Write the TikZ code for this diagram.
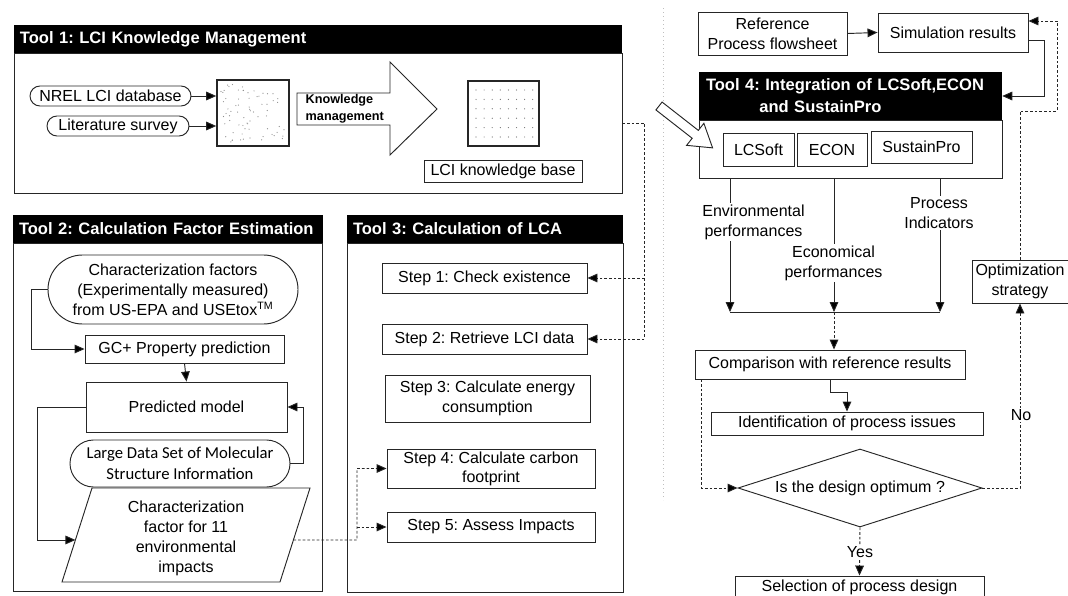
\documentclass[tikz,border=0pt]{standalone}
\usepackage{fontspec}
\setmainfont{Liberation Sans}
\newfontfamily\carlito{Carlito}
\frenchspacing
\usetikzlibrary{positioning,arrows.meta,calc,shapes.misc,shapes.geometric}

\tikzset{
  wh/.style 2 args={minimum width=#1*0.75pt,minimum height=#2*0.75pt},
  box/.style={draw=black!85,line width=0.7pt,fill=white,inner sep=0pt,align=center},
  pill/.style={box,rounded rectangle},
  panel/.style={draw=black!85,line width=0.7pt,inner sep=0pt},
  hdr/.style={fill=black,text=white,inner sep=0pt,align=left,
    font=\bfseries\fontsize{12.4}{16.5}\selectfont},
  conn/.style={draw=black!85,line width=0.7pt},
  dconn/.style={conn,dash pattern=on 2pt off 1.5pt},
  arr/.style={-{Triangle[length=7.5pt,width=6.5pt,fill=black]}},
  lbl/.style={fill=white,inner sep=1pt,align=center},
}

\begin{document}
\begin{tikzpicture}[x=0.75pt,y=-0.75pt,font=\fontsize{12}{15}\selectfont]
  \useasboundingbox (0,0) rectangle (1068,596);
  \fill[white] (0,0) rectangle (1068,596);
  \draw[black!25,dash pattern=on 1pt off 2pt] (663,8) -- (663,500);

  % Tool 1
  \node[panel,wh={608}{140}] (panel1) at (318,123) {};
  \node[hdr,wh={608}{28},text width=447pt] (hdr1) at (318,39) {Tool 1: LCI Knowledge Management};
  \node[pill,wh={161}{20}] (nrel) at (110.5,96) {NREL LCI database};
  \node[pill,wh={142}{20}] (lit) at (118,126) {Literature survey};
  \node[box,line width=1.2pt,wh={72}{66}] (raw) at (253,113) {};
  \pgfmathsetseed{7}
  \foreach \i in {1,...,70}
    \fill[black!45] (221+rnd*64,84+rnd*58) circle (0.45pt);
  \draw[conn] (297,93) -- (390,93) -- (390,62) -- (437,109) -- (390,155) -- (390,125) -- (297,125) -- cycle;
  \node[font=\bfseries\fontsize{9.5}{12.5}\selectfont,align=left,anchor=west] (kmlbl) at (301,109) {Knowledge\\management};
  \node[box,line width=1.2pt,wh={71}{65}] (kb) at (503.5,113.5) {};
  \foreach \cx in {0,...,7}
    \foreach \cy in {0,...,5}
      \fill[black!55] (476+\cx*8.1,90+\cy*9.4) circle (0.45pt);
  \node[box,wh={158}{22}] (kblbl) at (503,171) {LCI knowledge base};
  \draw[conn,arr] (nrel.east) -- (raw.west |- nrel.east);
  \draw[conn,arr] (lit.east) -- (raw.west |- lit.east);

  % Tool 2
  \node[panel,wh={309}{348}] (panel2) at (167.5,417) {};
  \node[hdr,wh={310}{28},text width=223.5pt] (hdr2) at (168,229) {Tool 2: Calculation Factor Estimation};
  \node[pill,wh={250}{69}] (charf) at (173,289.5) {Characterization factors\\(Experimentally measured)\\from US-EPA and USEtox\textsuperscript{TM}};
  \node[box,wh={199}{28}] (gcp) at (184.5,349) {GC+ Property prediction};
  \node[box,wh={201}{50}] (predm) at (186.5,407) {Predicted model};
  \node[pill,wh={220}{47},font=\carlito\fontsize{12.5}{15.5}\selectfont] (largeds) at (180,463.5) {Large Data Set of Molecular\\Structure Information};
  \coordinate (p1) at (92,488);
  \coordinate (p2) at (310,488);
  \coordinate (p3) at (280,582);
  \coordinate (p4) at (62,582);
  \draw[conn,fill=white] (p1) -- (p2) -- (p3) -- (p4) -- cycle;
  \node[align=center] (cf11) at (186,538) {Characterization\\factor for 11\\environmental\\impacts};
  \coordinate (cfl) at ($(p1)!0.553!(p4)$);
  \coordinate (cfr) at ($(p2)!0.553!(p3)$);
  \draw[conn,arr] (charf.west) -- ++(-16,0) |- (gcp.west);
  \draw[conn,arr] (gcp.south) -- (predm.north);
  \draw[conn,arr] (largeds.east) -- ++(13,0) |- (predm.east);
  \draw[conn,arr] (predm.west) -- (37,407) |- (cfl);

  % Tool 3
  \node[panel,wh={276}{349}] (panel3) at (485,417.5) {};
  \node[hdr,wh={276}{28},text width=198pt] (hdr3) at (485,229) {Tool 3: Calculation of LCA};
  \node[box,wh={205}{30}] (step1) at (484.5,278) {Step 1: Check existence};
  \node[box,wh={205}{30}] (step2) at (484.5,339) {Step 2: Retrieve LCI data};
  \node[box,wh={205}{47}] (step3) at (487.5,398.5) {Step 3: Calculate energy\\consumption};
  \node[box,wh={208}{39},font=\fontsize{12}{14.3}\selectfont] (step4) at (491,468.5) {Step 4: Calculate carbon\\footprint};
  \node[box,wh={208}{30}] (step5) at (491,527) {Step 5: Assess Impacts};
  \draw[dconn,arr] (cfr) -- (357,540) coordinate (cfjoin) |- (step4.west);
  \draw[dconn,arr] (cfjoin |- step5.west) -- (step5.west);
  \draw[dconn,arr] (panel1.east) -- ++(22,0) coordinate (kbjoin) |- (step2.east);
  \draw[dconn,arr] (kbjoin |- step1.east) -- (step1.east);

  % Tool 4
  \node[box,wh={149}{43}] (refpf) at (772.5,33.5) {Reference\\Process flowsheet};
  \node[box,wh={150}{39}] (simres) at (953,32.5) {Simulation results};
  \node[panel,wh={303}{58}] (panel4) at (850.5,149) {};
  \node[hdr,wh={303}{48},text width=216.75pt] (hdr4) at (850.5,96) {Tool 4: Integration of LCSoft,ECON\\\hspace*{40pt}and SustainPro};
  \node[box,wh={71}{33}] (lcsoft) at (758.5,149.5) {LCSoft};
  \node[box,wh={70}{33}] (econ) at (832,149.5) {ECON};
  \node[box,wh={101}{32}] (sustain) at (921.5,147) {SustainPro};
  \begin{scope}[shift={(659,106)},rotate=-38]
    \draw[conn,fill=white] (0,-5) -- (46,-5) -- (46,-14) -- (68,0) -- (46,14) -- (46,5) -- (0,5) -- cycle;
  \end{scope}
  \draw[conn,arr] (refpf.east) -- (simres.west);
  \draw[conn,arr] ($(simres.east)+(0,7.5)$) -- ++(16,0) |- (hdr4.east);

  \coordinate (jl) at (730,312);
  \coordinate (jm) at (834,312);
  \coordinate (jr) at (940,312);
  \draw[conn,arr] (panel4.south -| jl) -- (jl);
  \draw[conn,arr] (panel4.south -| jm) -- (jm);
  \draw[conn,arr] (panel4.south -| jr) -- (jr);
  \draw[conn] (jl) -- (jr);
  \node[lbl] (envlbl) at (753.5,222) {Environmental\\performances};
  \node[lbl] (ecolbl) at (833.5,263) {Economical\\performances};
  \node[lbl] (proclbl) at (939,213) {Process\\Indicators};

  \node[box,wh={270}{29}] (comp) at (830,364.5) {Comparison with reference results};
  \node[box,wh={272}{23}] (ident) at (847,423.5) {Identification of process issues};
  \node[box,diamond,aspect=3.1,wh={244}{78}] (dia) at (860,488) {Is the design optimum ?};
  \node[box,wh={96}{43}] (opt) at (1020,281.5) {Optimization\\strategy};
  \node[box,wh={249}{22}] (sel) at (859.5,587) {Selection of process design};

  \draw[dconn,arr] (jm) -- (jm |- comp.north);
  \draw[conn,arr] (comp.south) -- ++(0,13) -| (ident.north);
  \draw[dconn,arr] ($(comp.south west)+(7,0)$) |- (dia.west);
  \draw[dconn,arr] (dia.east) -| (opt.south);
  \draw[dconn,arr] (opt.north) |- (1057,111) -- (1057,21) -- ($(simres.east)+(0,-11.5)$);
  \draw[dconn,arr] (dia.south) -- (sel.north);
  \node[lbl] (nolbl) at (1021,415) {No};
  \node[lbl] (yeslbl) at (860,552) {Yes};
\end{tikzpicture}
\end{document}
